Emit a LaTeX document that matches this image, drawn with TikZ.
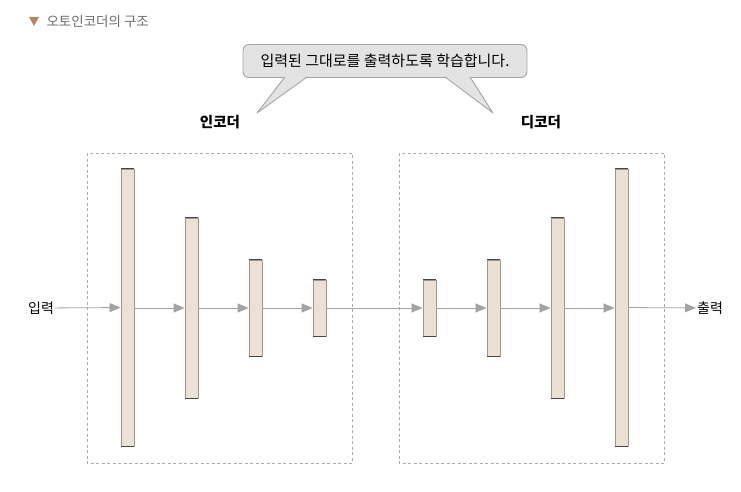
\documentclass[tikz,border=0pt]{standalone}
\usepackage{fontspec}
\newfontfamily\kr{Noto Sans CJK KR}
\usetikzlibrary{arrows.meta}

\definecolor{barfill}{HTML}{EAE0D4}
\definecolor{bardraw}{HTML}{9E9791}
\definecolor{baredge}{HTML}{4A4540}
\definecolor{flowgray}{HTML}{A3A3A3}
\definecolor{boxgray}{HTML}{ABABAB}
\definecolor{tipbrown}{HTML}{B08A5C}
\definecolor{callfill}{HTML}{E3E3E3}
\definecolor{calldraw}{HTML}{A5A5A5}

\tikzset{
  layer/.style={draw=bardraw, fill=barfill, line width=0.9pt,
    minimum width=13pt, inner sep=0pt},
  flow/.style={draw=flowgray, line width=0.8pt,
    -{Triangle[length=11pt,width=9pt]}},
  part/.style={draw=boxgray, line width=0.8pt,
    dash pattern=on 3pt off 2.5pt},
}

\begin{document}
\begin{tikzpicture}[x=1pt, y=-1pt, font=\kr, line join=round]

\useasboundingbox (0,0) rectangle (741,492);

% ---------- Title ----------
\fill[tipbrown] (29,17) -- (39,17) -- (34,26) -- cycle;
\node[anchor=west, text=gray!85!black, font=\kr\fontsize{13.5}{15}\selectfont]
  (title) at (43,21.5) {오토인코더의 구조};

% ---------- Encoder / decoder frames ----------
\draw[part] (87,153) rectangle (352,463);
\draw[part] (399,153) rectangle (664,463);

\node[font=\kr\bfseries\fontsize{14.5}{16}\selectfont] (enc) at (220,122) {인코더};
\node[font=\kr\bfseries\fontsize{14.5}{16}\selectfont] (dec) at (541,122) {디코더};

% ---------- Layers ----------
\node[layer, minimum height=277pt] (b1) at (127.5,307.5) {};
\node[layer, minimum height=180pt] (b2) at (191.5,308) {};
\node[layer, minimum height=96pt]  (b3) at (255.5,308) {};
\node[layer, minimum height=56pt]  (b4) at (319.5,308) {};

\node[layer, minimum height=56pt]  (b5) at (429.5,308) {};
\node[layer, minimum height=96pt]  (b6) at (493.5,308) {};
\node[layer, minimum height=180pt] (b7) at (557.5,308) {};
\node[layer, minimum height=277pt] (b8) at (621.5,307.5) {};

% dark top and bottom edges
\foreach \b in {b1,b2,b3,b4,b5,b6,b7,b8} {
  \draw[baredge, line width=0.9pt] (\b.north west) -- (\b.north east);
  \draw[baredge, line width=0.9pt] (\b.south west) -- (\b.south east);
}

% ---------- Input / output ----------
\node[font=\kr\fontsize{14}{16}\selectfont, inner sep=1pt] (in) at (41,308) {입력};
\node[font=\kr\fontsize{14}{16}\selectfont, inner sep=1pt] (out) at (710,308) {출력};

\draw[flow] (in) -- (b1);
\foreach \a/\b in {b1/b2, b2/b3, b3/b4, b4/b5, b5/b6, b6/b7, b7/b8}
  \draw[flow] (\a.east |- 0,308) -- (\b.west |- 0,308);
\draw[flow] (b8) -- (out);

% ---------- Callout ----------
\node[draw=calldraw, fill=callfill, rounded corners=6pt, line width=0.9pt,
  minimum width=284pt, minimum height=33pt,
  font=\kr\fontsize{15}{17}\selectfont] (note) at (385,61) {입력된 그대로를 출력하도록 학습합니다.};

\fill[callfill] (285,76) -- (257,113) -- (307,76) -- cycle;
\draw[calldraw, line width=0.9pt] (285,77) -- (257,113) -- (307,77);
\fill[callfill] (445,76) -- (493,113) -- (470,76) -- cycle;
\draw[calldraw, line width=0.9pt] (445,77) -- (493,113) -- (470,77);

\end{tikzpicture}
\end{document}
